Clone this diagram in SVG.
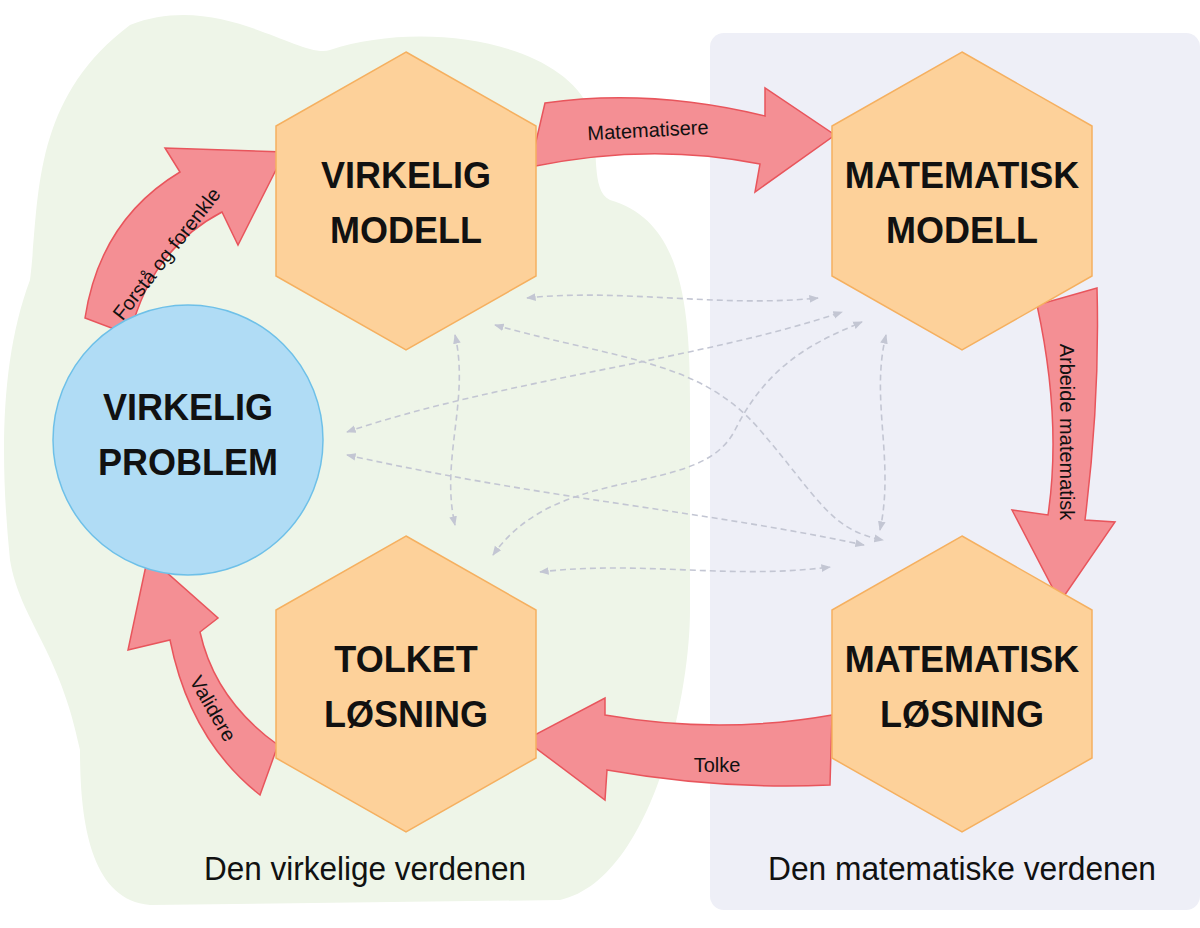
<svg xmlns="http://www.w3.org/2000/svg" width="1200" height="928" viewBox="0 0 1200 928">
<style>
.hex{fill:#fdd19a;stroke:#f5b060;stroke-width:1.5}
.t{font-family:"Liberation Sans",Arial,sans-serif;font-weight:bold;font-size:36px;fill:#111;text-anchor:middle}
.big{font-family:"Liberation Sans",Arial,sans-serif;font-size:34px;fill:#111;text-anchor:middle}
.arr{fill:#f48f94;stroke:#e8555c;stroke-width:1.5}
.al{font-family:"Liberation Sans",Arial,sans-serif;font-size:20px;fill:#111;text-anchor:middle}
.d{fill:none;stroke:#c3c6d3;stroke-width:1.6;stroke-dasharray:6 4;marker-start:url(#m);marker-end:url(#m)}
</style>
<defs>
<marker id="m" viewBox="0 0 10 10" refX="9" refY="5" markerWidth="6" markerHeight="6" orient="auto-start-reverse"><path d="M0,1 L10,5 L0,9 Z" fill="#c3c6d3"/></marker>
</defs>
<g id="backgrounds">
<path d="M130,25 C220,-10 300,60 330,50 C420,20 560,40 590,110 C600,150 590,190 610,200 C680,220 690,300 690,400 L690,610 C690,700 650,880 560,900 L150,905 C90,900 80,820 80,750 C60,650 20,620 10,560 C0,460 0,360 30,280 C40,200 30,100 130,25 Z" fill="#eef5e8"/>
<rect x="710" y="33" width="490" height="877" rx="14" fill="#eeeff7"/>
</g>
<g id="connectors">
<path class="d" d="M527,298 C620,288 720,308 818,298"/>
<path class="d" d="M495,325 C620,360 700,360 760,430 C820,500 830,530 883,540"/>
<path class="d" d="M347,432 C500,380 700,360 842,312"/>
<path class="d" d="M347,455 C550,500 700,510 864,545"/>
<path class="d" d="M455,335 C470,400 440,460 455,525"/>
<path class="d" d="M886,335 C870,400 895,460 880,530"/>
<path class="d" d="M493,555 C560,460 700,500 735,430 C770,360 820,340 862,322"/>
<path class="d" d="M540,572 C640,560 730,580 830,567"/>
<path class="arr" d="M545,103 Q650,88 765,116 L765,88 L835,135 L755,192 L760,164 Q650,142 530,167 Z"/>
<text class="al" x="648" y="137" transform="rotate(-3 648 130)">Matematisere</text>
<path class="arr" d="M1037,305 Q1062,420 1048,515 L1012,510 L1060,602 L1115,522 L1085,520 Q1100,400 1097,288 Z"/>
<text class="al" transform="translate(1060,432) rotate(90)">Arbeide matematisk</text>
<path class="arr" d="M832,715 Q720,735 605,715 L605,698 L525,740 L605,800 L607,770 Q720,790 830,785 Z"/>
<text class="al" x="717" y="772">Tolke</text>
<path class="arr" d="M260,795 Q190,740 170,640 L128,650 L148,556 L218,618 L200,632 Q215,700 278,745 Z"/>
<text class="al" transform="translate(207,712) rotate(60)">Validere</text>
<path class="arr" d="M85,318 Q100,220 180,172 L165,148 L285,152 L238,245 L222,212 Q150,250 130,335 Z"/>
<text class="al" transform="translate(172,258) rotate(-52)">Forstå og forenkle</text>
</g>
<g id="virkelig-problem">
<circle cx="188" cy="440" r="135" fill="#b0dcf5" stroke="#6ec0e8" stroke-width="1.5"/>
<text class="t" x="188" y="420">VIRKELIG</text>
<text class="t" x="188" y="475">PROBLEM</text>
</g>
<g id="virkelig-modell">
<polygon class="hex" points="406,52 536,126 536,276 406,350 276,276 276,126"/>
<text class="t" x="406" y="188">VIRKELIG</text>
<text class="t" x="406" y="243">MODELL</text>
</g>
<g id="matematisk-modell">
<polygon class="hex" points="962,52 1092,126 1092,276 962,350 832,276 832,126"/>
<text class="t" x="962" y="188">MATEMATISK</text>
<text class="t" x="962" y="243">MODELL</text>
</g>
<g id="tolket-losning">
<polygon class="hex" points="406,536 536,610 536,758 406,832 276,758 276,610"/>
<text class="t" x="406" y="672">TOLKET</text>
<text class="t" x="406" y="727">LØSNING</text>
</g>
<g id="matematisk-losning">
<polygon class="hex" points="962,536 1092,610 1092,758 962,832 832,758 832,610"/>
<text class="t" x="962" y="672">MATEMATISK</text>
<text class="t" x="962" y="727">LØSNING</text>
</g>
<g id="labels">
<text class="big" x="365" y="880" textLength="322" lengthAdjust="spacingAndGlyphs">Den virkelige verdenen</text>
<text class="big" x="962" y="880" textLength="388" lengthAdjust="spacingAndGlyphs">Den matematiske verdenen</text>
</g>
</svg>
